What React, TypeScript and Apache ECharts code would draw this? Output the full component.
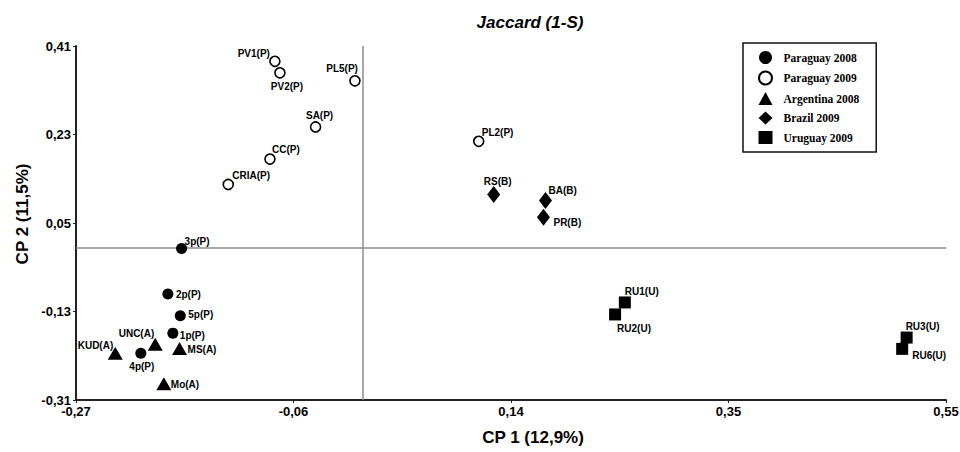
import React, { useEffect, useRef } from "react";
import * as echarts from "echarts";

// Axis ticks and labels
const xTickValues = [-0.27, -0.065, 0.14, 0.345, 0.55];
const xTickLabels = ["-0,27", "-0,06", "0,14", "0,35", "0,55"];
const yTickValues = [-0.31, -0.13, 0.05, 0.23, 0.41];
const yTickLabels = ["-0,31", "-0,13", "0,05", "0,23", "0,41"];

// Groups (legend order)
const groupNames = ["Paraguay 2008", "Paraguay 2009", "Argentina 2008", "Brazil 2009", "Uruguay 2009"];

// Paraguay 2008
const par08Names = ["3p(P)", "2p(P)", "5p(P)", "1p(P)", "4p(P)"];
const par08X = [-0.1705, -0.1834, -0.1717, -0.1787, -0.2089];
const par08Y = [-0.002, -0.0945, -0.1387, -0.174, -0.2149];

// Paraguay 2009
const par09Names = ["PV1(P)", "PV2(P)", "PL5(P)", "SA(P)", "CC(P)", "CRIA(P)", "PL2(P)"];
const par09X = [-0.0825, -0.0778, -0.0071, -0.0442, -0.0872, -0.1265, 0.1096];
const par09Y = [0.3788, 0.3555, 0.3392, 0.2454, 0.18, 0.1285, 0.2162];

// Argentina 2008
const arg08Names = ["KUD(A)", "UNC(A)", "MS(A)", "Mo(A)"];
const arg08X = [-0.233, -0.1953, -0.1724, -0.1872];
const arg08Y = [-0.215, -0.1965, -0.2055, -0.2769];

// Brazil 2009
const bra09Names = ["RS(B)", "BA(B)", "PR(B)"];
const bra09X = [0.1237, 0.1725, 0.1706];
const bra09Y = [0.108, 0.0958, 0.0618];

// Uruguay 2009
const uru09Names = ["RU1(U)", "RU2(U)", "RU3(U)", "RU6(U)"];
const uru09X = [0.2473, 0.2381, 0.5129, 0.5087];
const uru09Y = [-0.1116, -0.136, -0.183, -0.206];

// Label placement relative to the symbol centre: [align, dx, dy]
const labelPlace: Record<string, [string, number, number]> = {
  "3p(P)": ["left", 3, -7],
  "2p(P)": ["left", 8, 0],
  "5p(P)": ["left", 8, -1],
  "1p(P)": ["left", 7, 2],
  "4p(P)": ["center", 1, 13],
  "KUD(A)": ["right", -2, -8],
  "UNC(A)": ["right", -1, -11],
  "MS(A)": ["left", 8, 1],
  "Mo(A)": ["left", 7, 1],
  "PV1(P)": ["right", -5, -8],
  "PV2(P)": ["center", 7, 14],
  "PL5(P)": ["right", 3, -12],
  "SA(P)": ["center", 4, -11],
  "CC(P)": ["left", 2, -10],
  "CRIA(P)": ["left", 4, -9],
  "PL2(P)": ["left", 3, -9],
  "RS(B)": ["center", 4, -13],
  "BA(B)": ["left", 3, -10],
  "PR(B)": ["left", 10, 5],
  "RU1(U)": ["left", 0, -11],
  "RU2(U)": ["left", 2, 14],
  "RU3(U)": ["left", -1, -11],
  "RU6(U)": ["left", 10, 7],
};

const LABEL_FONT = "Liberation Sans, Arial, sans-serif";

function buildData(names: string[], xs: number[], ys: number[]) {
  return names.map((n, i) => {
    const p = labelPlace[n] || ["left", 6, 0];
    return {
      name: n,
      value: [xs[i], ys[i]],
      label: {
        show: true,
        position: "inside",
        align: p[0],
        verticalAlign: "middle",
        offset: [p[1], p[2]],
        formatter: n,
        color: "#000",
        fontFamily: LABEL_FONT,
        fontWeight: "bold",
        fontSize: 10,
        textBorderWidth: 0,
      },
    };
  });
}

function fmt(values: number[], labels: string[]) {
  return (v: number) => {
    for (let i = 0; i < values.length; i++) {
      if (Math.abs(values[i] - v) < 1e-6) return labels[i];
    }
    return "";
  };
}

export default function App() {
  const ref = useRef<HTMLDivElement>(null);
  useEffect(() => {
    if (!ref.current) return;
    const chart = echarts.init(ref.current, undefined, { renderer: "svg" });
    const axisLabelStyle = {
      color: "#000",
      fontFamily: LABEL_FONT,
      fontWeight: "bold",
      fontSize: 13,
    };
    const option: any = {
      animation: false,
      backgroundColor: "#fff",
      grid: {
        left: 76,
        right: 14,
        top: 46,
        bottom: 52,
        containLabel: false,
        outerBoundsMode: "none",
      },
      xAxis: {
        type: "value",
        min: -0.27,
        max: 0.55,
        axisLine: { show: true, onZero: false, lineStyle: { color: "#222", width: 2 } },
        axisTick: { show: true, length: 3, customValues: xTickValues, lineStyle: { color: "#222", width: 1 } },
        axisLabel: { ...axisLabelStyle, margin: 5, customValues: xTickValues, formatter: fmt(xTickValues, xTickLabels), showMinLabel: true, showMaxLabel: true },
        splitLine: { show: false },
      },
      yAxis: {
        type: "value",
        min: -0.31,
        max: 0.41,
        axisLine: { show: true, onZero: false, lineStyle: { color: "#222", width: 2 } },
        axisTick: { show: true, length: 3, customValues: yTickValues, lineStyle: { color: "#222", width: 1 } },
        axisLabel: { ...axisLabelStyle, margin: 5, customValues: yTickValues, formatter: fmt(yTickValues, yTickLabels), showMinLabel: true, showMaxLabel: true },
        splitLine: { show: false },
      },
      legend: {
        orient: "vertical",
        left: 743,
        top: 43,
        padding: [8, 17, 8, 15],
        borderColor: "#111",
        borderWidth: 1.5,
        itemWidth: 14,
        itemHeight: 13,
        itemGap: 6.5,
        data: groupNames,
        textStyle: {
          color: "#000",
          fontFamily: "Liberation Serif, Times New Roman, serif",
          fontWeight: "bold",
          fontSize: 11.5,
          padding: [0, 0, 0, 6],
        },
      },
      graphic: [
        {
          type: "text",
          x: 530,
          y: 22,
          style: {
            text: "Jaccard (1-S)",
            font: "italic bold 17px Liberation Sans, Arial, sans-serif",
            fill: "#000",
            textAlign: "center",
            textVerticalAlign: "middle",
          },
        },
        {
          type: "text",
          x: 533,
          y: 437,
          style: {
            text: "CP 1 (12,9%)",
            font: "bold 17px Liberation Sans, Arial, sans-serif",
            fill: "#000",
            textAlign: "center",
            textVerticalAlign: "middle",
          },
        },
        {
          type: "text",
          x: 22,
          y: 214,
          rotation: Math.PI / 2,
          style: {
            text: "CP 2 (11,5%)",
            font: "bold 17px Liberation Sans, Arial, sans-serif",
            fill: "#000",
            textAlign: "center",
            textVerticalAlign: "middle",
          },
        },
      ],
      series: [
        {
          name: groupNames[0],
          type: "scatter",
          symbol: "circle",
          symbolSize: 11,
          itemStyle: { color: "#000", opacity: 1 },
          data: buildData(par08Names, par08X, par08Y),
          z: 3,
          markLine: {
            silent: true,
            symbol: "none",
            label: { show: false },
            lineStyle: { color: "#8c8c8c", width: 1.5, type: "solid", opacity: 1 },
            data: [{ xAxis: 0 }, { yAxis: 0 }],
            z: 1,
          },
        },
        {
          name: groupNames[1],
          type: "scatter",
          symbol: "circle",
          symbolSize: 10,
          itemStyle: { color: "#fff", borderColor: "#000", borderWidth: 1.6, opacity: 1 },
          data: buildData(par09Names, par09X, par09Y),
          z: 3,
        },
        {
          name: groupNames[2],
          type: "scatter",
          symbol: "triangle",
          symbolSize: [15, 13],
          itemStyle: { color: "#000", opacity: 1 },
          data: buildData(arg08Names, arg08X, arg08Y),
          z: 3,
        },
        {
          name: groupNames[3],
          type: "scatter",
          symbol: "diamond",
          symbolSize: [13, 17],
          itemStyle: { color: "#000", opacity: 1 },
          data: buildData(bra09Names, bra09X, bra09Y),
          z: 3,
        },
        {
          name: groupNames[4],
          type: "scatter",
          symbol: "rect",
          symbolSize: 12,
          itemStyle: { color: "#000", opacity: 1 },
          data: buildData(uru09Names, uru09X, uru09Y),
          z: 3,
        },
      ],
    };
    chart.setOption(option);
    return () => chart.dispose();
  }, []);
  return (
    <div
      ref={ref}
      style={{ position: "fixed", left: 0, top: 0, width: 960, height: 452, background: "#fff" }}
    />
  );
}
